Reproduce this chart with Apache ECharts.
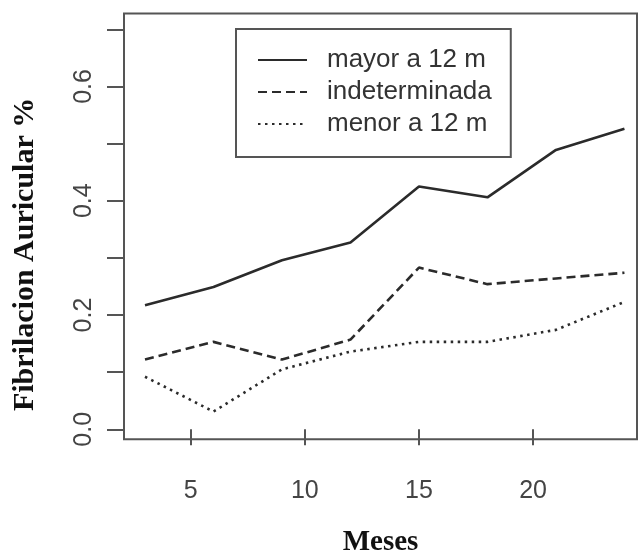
<!DOCTYPE html>
<html>
<head>
<meta charset="utf-8">
<script src="https://cdn.jsdelivr.net/npm/echarts@6/dist/echarts.min.js"></script>
<style>
  html, body { margin: 0; padding: 0; background: #fff; }
  #chart { width: 638px; height: 554px; }
</style>
</head>
<body>
<div id="chart"></div>
<script>
  // datos
  const meses = [3, 6, 9, 12, 15, 18, 21, 24];
  const mayor = [0.217, 0.249, 0.296, 0.327, 0.425, 0.406, 0.489, 0.526];
  const indeterminada = [0.122, 0.153, 0.122, 0.157, 0.283, 0.254, 0.264, 0.274];
  const menor = [0.092, 0.031, 0.105, 0.136, 0.153, 0.153, 0.174, 0.223];
  const xTicks = [5, 10, 15, 20];
  const yTicks = [0, 0.1, 0.2, 0.3, 0.4, 0.5, 0.6, 0.7];
  const yLabels = [0, 0.2, 0.4, 0.6];
  const nombres = ['mayor a 12 m', 'indeterminada', 'menor a 12 m'];

  function pares(vals) {
    return meses.map((m, i) => [m, vals[i]]);
  }

  const gris = '#555';
  const sans = 'Liberation Sans';
  const serif = 'Liberation Serif';

  const chart = echarts.init(document.getElementById('chart'));
  chart.setOption({
    animation: false,
    grid: {
      show: true,
      left: 124, top: 13.5, right: 1, bottom: 114.7,
      borderColor: gris, borderWidth: 2,
      containLabel: false,
      outerBoundsMode: 'none'
    },
    legend: {
      orient: 'vertical',
      left: 236, top: 29,
      padding: [18, 19, 20, 21],
      borderColor: gris, borderWidth: 2,
      itemWidth: 49, itemHeight: 14, itemGap: 6,
      itemStyle: { opacity: 0 },
      data: nombres,
      textStyle: {
        fontFamily: sans, fontSize: 26, color: '#333',
        lineHeight: 26, padding: [0, 0, 0, 15]
      }
    },
    xAxis: {
      type: 'value',
      min: 2.08, max: 24.55,
      name: 'Meses',
      nameLocation: 'middle',
      nameGap: 89,
      nameTextStyle: { fontFamily: serif, fontWeight: 'bold', fontSize: 29, color: '#111' },
      axisLine: { show: false },
      splitLine: { show: false },
      axisTick: { show: true, length: 16, customValues: xTicks, lineStyle: { color: gris, width: 2 } },
      axisLabel: {
        customValues: xTicks, margin: 39,
        fontFamily: sans, fontSize: 25, color: '#444'
      }
    },
    yAxis: {
      type: 'value',
      min: -0.0175, max: 0.7277,
      name: 'Fibrilacion Auricular %',
      nameLocation: 'middle',
      nameGap: 84,
      nameTextStyle: {
        fontFamily: serif, fontWeight: 'bold', fontSize: 30, color: '#111',
        padding: [0, 56, 0, 0]
      },
      axisLine: { show: false },
      splitLine: { show: false },
      axisTick: { show: true, length: 17, customValues: yTicks, lineStyle: { color: gris, width: 2 } },
      axisLabel: {
        customValues: yLabels, rotate: 90, margin: 27,
        fontFamily: sans, fontSize: 25, color: '#444',
        formatter: v => v.toFixed(1)
      }
    },
    series: [
      {
        name: nombres[0], type: 'line', data: pares(mayor),
        symbol: 'none', color: '#2b2b2b',
        lineStyle: { color: '#2b2b2b', width: 2.6, type: 'solid' }
      },
      {
        name: nombres[1], type: 'line', data: pares(indeterminada),
        symbol: 'none', color: '#2b2b2b',
        lineStyle: { color: '#2b2b2b', width: 2.6, type: [9, 5] }
      },
      {
        name: nombres[2], type: 'line', data: pares(menor),
        symbol: 'none', color: '#2b2b2b',
        lineStyle: { color: '#2b2b2b', width: 2.6, type: [2.5, 4.5] }
      }
    ]
  });
</script>
</body>
</html>
